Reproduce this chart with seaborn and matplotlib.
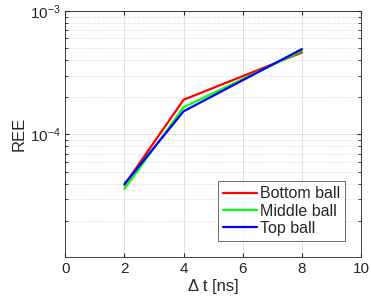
import matplotlib
matplotlib.use("Agg")
import matplotlib.pyplot as plt
from matplotlib.ticker import LogLocator, NullFormatter
import seaborn as sns
import pandas as pd

dt = [2, 4, 8]
bottom_ball = [3.9e-5, 1.91e-4, 4.61e-4]
middle_ball = [3.62e-5, 1.66e-4, 4.75e-4]
top_ball = [3.96e-5, 1.54e-4, 4.91e-4]
names = ["Bottom ball", "Middle ball", "Top ball"]
colors = ["#ff0000", "#00ff00", "#0000ff"]

rows = []
for name, vals in zip(names, [bottom_ball, middle_ball, top_ball]):
	for x, v in zip(dt, vals):
		rows.append({"dt": x, "REE": v, "ball": name})
df = pd.DataFrame(rows)

sns.set_style("ticks")
plt.rcParams['font.family'] = ['Liberation Sans', 'DejaVu Sans']
plt.rcParams['mathtext.fontset'] = 'custom'
plt.rcParams['mathtext.rm'] = 'Liberation Sans'
plt.rcParams['mathtext.it'] = 'Liberation Sans'
plt.rcParams['mathtext.default'] = 'regular'

fig = plt.figure(figsize=(3.71, 3.06), dpi=100)
ax = fig.add_axes([0.176, 0.159, 0.797, 0.805])
sns.lineplot(data=df, x="dt", y="REE", hue="ball", palette=colors, linewidth=1.6, ax=ax)

ax.set_yscale("log")
ax.set_xlim(0, 10)
ax.set_ylim(1.01e-5, 1e-3)
ax.set_xticks([0, 2, 4, 6, 8, 10])
ax.set_yticks([1e-4, 1e-3])
ax.yaxis.set_minor_locator(LogLocator(base=10, subs=range(2, 10)))
ax.yaxis.set_minor_formatter(NullFormatter())
ax.grid(True, which="major", color="#dcdcdc", linewidth=0.6)
ax.grid(True, which="minor", axis="y", color="#c8c8c8", linestyle=(0, (1, 2)), linewidth=0.6)
ax.set_axisbelow(True)
for s in ax.spines.values():
	s.set_color("#262626")
	s.set_linewidth(0.6)
ax.tick_params(direction="in", which="both", top=True, right=True, labelsize=11, colors="#262626", length=3)
ax.tick_params(which="minor", length=2)
ax.set_xlabel("Δ t [ns]", fontsize=12, labelpad=2)
ax.set_ylabel("REE", fontsize=12, labelpad=2)
leg = ax.legend(loc="lower right", fontsize=11.5, frameon=True, fancybox=False, edgecolor="#262626", handlelength=2.1, handletextpad=0.2, borderpad=0.3, labelspacing=0.15, bbox_to_anchor=(0.972, 0.035))
leg.get_frame().set_linewidth(0.6)
fig.savefig("out.png", dpi=100)
plt.close()
